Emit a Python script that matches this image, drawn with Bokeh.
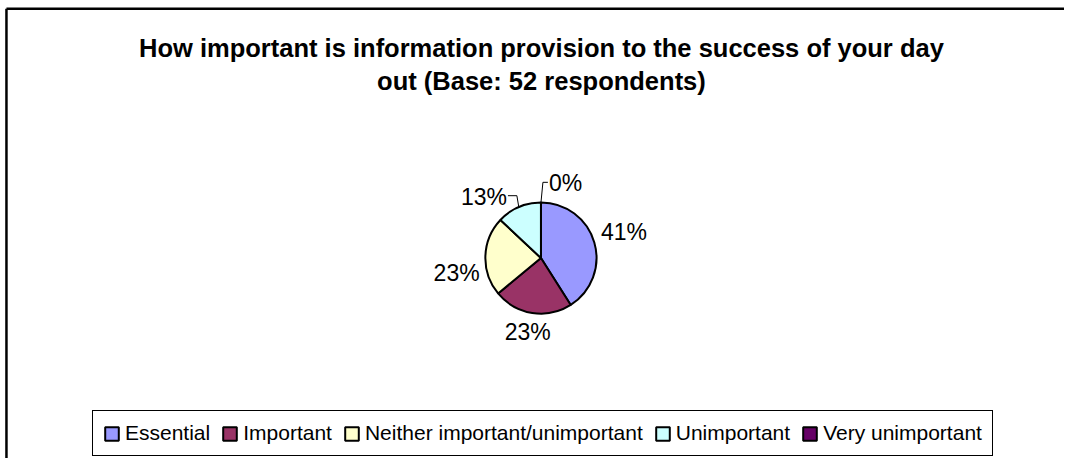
import math
from bokeh.plotting import figure
from bokeh.models import Range1d, Legend, LegendItem, ColumnDataSource
from bokeh.core.properties import value
from bokeh.embed import file_html
from bokeh.resources import INLINE

# ---- data ----
title_lines = ["How important is information provision to the success of your day",
               "out (Base: 52 respondents)"]
categories = ["Essential", "Important", "Neither important/unimportant",
              "Unimportant", "Very unimportant"]
percentages = [41, 23, 23, 13, 0]
colors = ["#9999FF", "#993366", "#FFFFCC", "#CCFFFF", "#660066"]

# ---- layout (reference-picture pixel coordinates; y negated for data space) ----
W, H = 1064, 458          # figure size in screen px
RW, RH = 1072, 466        # coordinate space of the layout numbers
CX, CY, R = 544.5, 262.0, 56.0
FONT = "Liberation Sans"
LABEL_SIZE = 23
LABEL_PAD = 6
LABEL_NUDGE = {0: (2, -7), 1: (0, 5), 2: (0, 17)}
LEADERS = {3: (-2, 12, -9, "right"), 4: (2, 21, 5, "left")}

p = figure(width=W, height=H, x_range=Range1d(0, RW), y_range=Range1d(-RH, 0),
           output_backend="svg", toolbar_location=None, min_border=0,
           x_axis_type=None, y_axis_type=None)
p.grid.visible = False
p.outline_line_color = None
p.background_fill_color = "white"
p.border_fill_color = "white"

# outer chart frame (left and top edges visible; the rest lies outside the picture)
p.line(x=[6, 6], y=[-RH - 20, -8.5], line_color="black", line_width=2.5)
p.line(x=[6, RW + 20], y=[-8.5, -8.5], line_color="black", line_width=2.5)

# title
p.text(x=[545, 545], y=[-48.5, -82], text=title_lines, text_font=value(FONT),
       text_font_style="bold", text_font_size="25.5px", text_align="center",
       text_baseline="alphabetic", text_color="black")

# pie wedges (clockwise from 12 o'clock)
total = float(sum(percentages))
starts, ends, mids = [], [], []
cum = 0.0
for v in percentages:
    c0 = cum / total
    cum += v
    c1 = cum / total
    starts.append(math.pi / 2 - 2 * math.pi * c1)
    ends.append(math.pi / 2 - 2 * math.pi * c0)
    mids.append((c0 + c1) / 2)

radii = [R if v > 0 else 0.0 for v in percentages]
src = ColumnDataSource(dict(x=[CX] * len(percentages), y=[-CY] * len(percentages),
                            r=radii, start=starts, end=ends, color=colors, cat=categories))
wr = p.wedge(x="x", y="y", radius="r", start_angle="start", end_angle="end",
             fill_color="color", line_color="black", line_width=2, source=src)

# percentage labels
lx, ly, lt, la = [], [], [], []
lead_xs, lead_ys = [], []
for i, v in enumerate(percentages):
    th = 2 * math.pi * mids[i]
    dx, dy = math.sin(th), -math.cos(th)
    txt = f"{v}%"
    if i in LEADERS:
        edx, rise, run, align = LEADERS[i]
        ex, ey = CX + R * dx, CY + R * dy
        bx, by = ex + edx, ey - rise
        tx = bx + run
        lead_xs.append([ex, bx, tx])
        lead_ys.append([-ey, -by, -by])
        lx.append(tx + (-1 if align == "right" else 1))
        ly.append(-(by + 1))
        lt.append(txt)
        la.append(align)
    else:
        w = (0.556 * (len(txt) - 1) + 0.889) * LABEL_SIZE
        h = 0.8 * LABEL_SIZE
        px = CX + (R + LABEL_PAD) * dx + w / 2 * dx
        py = CY + (R + LABEL_PAD) * dy + h / 2 * dy
        ndx, ndy = LABEL_NUDGE.get(i, (0, 0))
        lx.append(px + ndx)
        ly.append(-(py + ndy))
        lt.append(txt)
        la.append("center")

p.multi_line(xs=lead_xs, ys=lead_ys, line_color="black", line_width=1)
p.text(x=lx, y=ly, text=lt, text_align=la, text_baseline="middle",
       text_font=value(FONT), text_font_size=f"{LABEL_SIZE}px", text_color="black")

# legend
items = [LegendItem(label=c, renderers=[wr], index=i) for i, c in enumerate(categories)]
legend = Legend(items=items, orientation="horizontal", location=(92, 2),
                border_line_color="black", border_line_width=1.2, border_line_alpha=1.0,
                background_fill_color="white", background_fill_alpha=1.0,
                label_text_font=FONT, label_text_font_size="21px", label_text_color="black",
                glyph_width=17, glyph_height=17, label_standoff=5, spacing=11,
                padding=10, margin=0)
p.add_layout(legend)

open("out.html", "w").write(file_html(p, INLINE))
